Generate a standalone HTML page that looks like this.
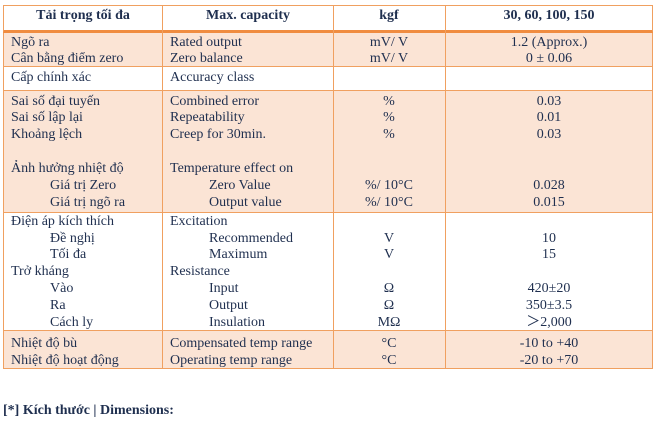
<!DOCTYPE html>
<html><head><meta charset="utf-8"><style>
body{margin:0;width:659px;height:425px;background:#fff;position:relative;overflow:hidden;font-family:"Liberation Serif",serif;color:#1f2f4f;}
.g{position:absolute;left:3px;width:650px;box-sizing:border-box;border:1px solid #f0a060;border-top:none}
.v{position:absolute;top:5px;height:364px;width:1px;background:#f0a060}
.t{position:absolute;font-size:14px;line-height:17px;white-space:nowrap}
.c{transform:translateX(-50%)}
.h{font-weight:bold;font-size:14px;top:7px}
</style></head><body>
<div class="g" style="top:5px;height:28px;border-top:1px solid #f0a060;border-bottom:3px solid #f08c40"></div>
<div class="g" style="top:33px;height:34px;background:#fbe4d5"></div>
<div class="g" style="top:67px;height:24px;background:#fff"></div>
<div class="g" style="top:91px;height:122px;background:#fbe4d5"></div>
<div class="g" style="top:213px;height:118px;background:#fff"></div>
<div class="g" style="top:331px;height:38px;background:#fbe4d5"></div>
<div class="v" style="left:162px"></div><div class="v" style="left:333px"></div><div class="v" style="left:445px"></div>

<div class="t h c" style="left:83px">Tải trọng tối đa</div>
<div class="t h c" style="left:248px">Max. capacity</div>
<div class="t h c" style="left:389px">kgf</div>
<div class="t h c" style="left:549px">30, 60, 100, 150</div>

<div>
<div class="t" style="left:11px;top:34px">Ngõ ra</div><div class="t" style="left:170px;top:34px">Rated output</div><div class="t c" style="left:389px;top:34px">mV/ V</div><div class="t c" style="left:549px;top:34px">1.2 (Approx.)</div>
<div class="t" style="left:11px;top:50px">Cân bằng điểm zero</div><div class="t" style="left:170px;top:50px">Zero balance</div><div class="t c" style="left:389px;top:50px">mV/ V</div><div class="t c" style="left:549px;top:50px">0 ± 0.06</div>
<div class="t" style="left:11px;top:69px">Cấp chính xác</div><div class="t" style="left:170px;top:69px">Accuracy class</div>
<div class="t" style="left:11px;top:93px">Sai số đại tuyến</div><div class="t" style="left:170px;top:93px">Combined error</div><div class="t c" style="left:389px;top:93px">%</div><div class="t c" style="left:549px;top:93px">0.03</div>
<div class="t" style="left:11px;top:109px">Sai số lập lại</div><div class="t" style="left:170px;top:109px">Repeatability</div><div class="t c" style="left:389px;top:109px">%</div><div class="t c" style="left:549px;top:109px">0.01</div>
<div class="t" style="left:11px;top:126px">Khoảng lệch</div><div class="t" style="left:170px;top:126px">Creep for 30min.</div><div class="t c" style="left:389px;top:126px">%</div><div class="t c" style="left:549px;top:126px">0.03</div>
<div class="t" style="left:11px;top:160px">Ảnh hưởng nhiệt độ</div><div class="t" style="left:170px;top:160px">Temperature effect on</div>
<div class="t" style="left:50px;top:177px">Giá trị Zero</div><div class="t" style="left:209px;top:177px">Zero Value</div><div class="t c" style="left:389px;top:177px">%/ 10°C</div><div class="t c" style="left:549px;top:177px">0.028</div>
<div class="t" style="left:50px;top:194px">Giá trị ngõ ra</div><div class="t" style="left:209px;top:194px">Output value</div><div class="t c" style="left:389px;top:194px">%/ 10°C</div><div class="t c" style="left:549px;top:194px">0.015</div>
<div class="t" style="left:11px;top:213px">Điện áp kích thích</div><div class="t" style="left:170px;top:213px">Excitation</div>
<div class="t" style="left:50px;top:230px">Đề nghị</div><div class="t" style="left:209px;top:230px">Recommended</div><div class="t c" style="left:389px;top:230px">V</div><div class="t c" style="left:549px;top:230px">10</div>
<div class="t" style="left:50px;top:246px">Tối đa</div><div class="t" style="left:209px;top:246px">Maximum</div><div class="t c" style="left:389px;top:246px">V</div><div class="t c" style="left:549px;top:246px">15</div>
<div class="t" style="left:11px;top:263px">Trở kháng</div><div class="t" style="left:170px;top:263px">Resistance</div>
<div class="t" style="left:50px;top:280px">Vào</div><div class="t" style="left:209px;top:280px">Input</div><div class="t c" style="left:389px;top:280px">Ω</div><div class="t c" style="left:549px;top:280px">420±20</div>
<div class="t" style="left:50px;top:297px">Ra</div><div class="t" style="left:209px;top:297px">Output</div><div class="t c" style="left:389px;top:297px">Ω</div><div class="t c" style="left:549px;top:297px">350±3.5</div>
<div class="t" style="left:50px;top:314px">Cách ly</div><div class="t" style="left:209px;top:314px">Insulation</div><div class="t c" style="left:389px;top:314px">MΩ</div><div class="t c" style="left:549px;top:314px">＞2,000</div>
<div class="t" style="left:11px;top:335px">Nhiệt độ bù</div><div class="t" style="left:170px;top:335px">Compensated temp range</div><div class="t c" style="left:389px;top:335px">°C</div><div class="t c" style="left:549px;top:335px">-10 to +40</div>
<div class="t" style="left:11px;top:352px">Nhiệt độ hoạt động</div><div class="t" style="left:170px;top:352px">Operating temp range</div><div class="t c" style="left:389px;top:352px">°C</div><div class="t c" style="left:549px;top:352px">-20 to +70</div>
</div>
<div class="t" style="left:3px;top:402px;font-weight:bold;font-size:14px">[*] Kích thước | Dimensions:</div>
</body></html>
